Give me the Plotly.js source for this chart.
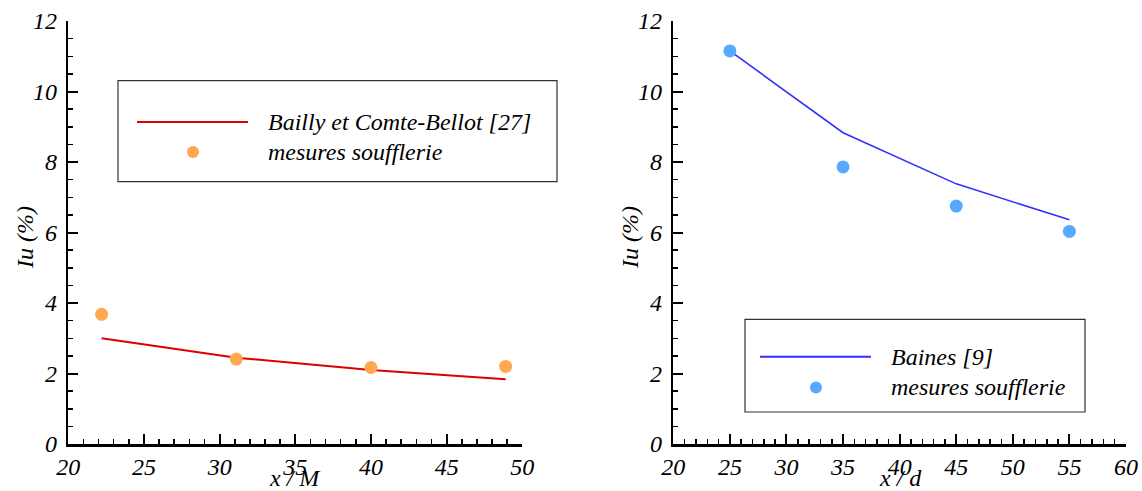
<!DOCTYPE html>
<html>
<head>
<meta charset="utf-8">
<script src="https://cdn.plot.ly/plotly-3.0.1.min.js"></script>
<style>
html,body{margin:0;padding:0;background:#fff;}
#chart{width:1142px;height:491px;}
</style>
</head>
<body>
<div id="chart"></div>
<script>
// ---- Data ----
const leftLineName = "Bailly et Comte-Bellot [27]";
const leftLineX = [22.2, 31.1, 40.0, 48.9];
const leftLineY = [3.0, 2.45, 2.1, 1.84];
const leftPtsName = "mesures soufflerie";
const leftPtsX = [22.2, 31.1, 40.0, 48.9];
const leftPtsY = [3.68, 2.41, 2.17, 2.2];

const rightLineName = "Baines [9]";
const rightLineX = [25, 35, 45, 55];
const rightLineY = [11.15, 8.83, 7.38, 6.36];
const rightPtsName = "mesures soufflerie";
const rightPtsX = [25, 35, 45, 55];
const rightPtsY = [11.15, 7.86, 6.75, 6.03];

const xTitleLeft = "x / M";
const xTitleRight = "x / d";
const yTitle = "Iu (%)";

(function () {
  const W = 1142, H = 491;
  const red = "#dd0000", orange = "#ffa851", blue = "#3030ff", lblue = "#55aaff";
  const fx = v => v / W;
  const fy = v => 1 - v / H;
  const mkFont = s => ({family: "Liberation Serif", size: s, style: "italic", color: "#000"});

  const traces = [
    {x: leftLineX, y: leftLineY, xaxis: 'x', yaxis: 'y', mode: 'lines', name: leftLineName,
     line: {color: red, width: 2}, showlegend: false},
    {x: leftPtsX, y: leftPtsY, xaxis: 'x', yaxis: 'y', mode: 'markers', name: leftPtsName,
     marker: {color: orange, size: 13}, showlegend: false},
    {x: rightLineX, y: rightLineY, xaxis: 'x2', yaxis: 'y2', mode: 'lines', name: rightLineName,
     line: {color: blue, width: 1.6}, showlegend: false},
    {x: rightPtsX, y: rightPtsY, xaxis: 'x2', yaxis: 'y2', mode: 'markers', name: rightPtsName,
     marker: {color: lblue, size: 13}, showlegend: false}
  ];

  function xax(domain, range, anchor) {
    return {
      domain: domain, range: range, dtick: 5, tick0: 0, anchor: anchor,
      showline: true, linecolor: '#000', linewidth: 2.5, mirror: false,
      showgrid: false, zeroline: false,
      ticks: 'inside', ticklen: 10, tickwidth: 2, tickcolor: '#000',
      minor: {ticks: 'inside', dtick: 1, ticklen: 5, tickwidth: 1.5, tickcolor: '#000', showgrid: false},
      tickfont: mkFont(24), ticklabelstandoff: 0,
      automargin: false, fixedrange: true
    };
  }
  function yax(domain, anchor) {
    return {
      domain: domain, range: [0, 12], dtick: 2, tick0: 0, anchor: anchor,
      showline: true, linecolor: '#000', linewidth: 2.5, mirror: false,
      showgrid: false, zeroline: false,
      ticks: 'inside', ticklen: 10, tickwidth: 2, tickcolor: '#000',
      minor: {ticks: 'inside', dtick: 0.5, ticklen: 5, tickwidth: 1.5, tickcolor: '#000', showgrid: false},
      tickfont: mkFont(24), ticklabelstandoff: 4,
      automargin: false, fixedrange: true
    };
  }

  const yDom = [fy(444), fy(21)];
  const layout = {
    width: W, height: H,
    margin: {l: 0, r: 0, t: 0, b: 0},
    paper_bgcolor: '#fff', plot_bgcolor: '#fff',
    font: {family: "Liberation Serif", color: "#000"},
    showlegend: false,
    xaxis: xax([fx(68.3), fx(522.3)], [20, 50], 'y'),
    yaxis: yax(yDom, 'x'),
    xaxis2: xax([fx(673.3), fx(1126)], [20, 60], 'y2'),
    yaxis2: yax(yDom, 'x2'),
    shapes: [
      {type: 'rect', xref: 'paper', yref: 'paper', x0: fx(118), x1: fx(557), y0: fy(181.7), y1: fy(80.7),
       line: {color: '#333', width: 1.2}, fillcolor: 'rgba(0,0,0,0)'},
      {type: 'line', xref: 'paper', yref: 'paper', x0: fx(137), x1: fx(248), y0: fy(122), y1: fy(122),
       line: {color: red, width: 2}},
      {type: 'circle', xref: 'paper', yref: 'paper', x0: fx(187), x1: fx(199), y0: fy(158), y1: fy(146),
       line: {width: 0}, fillcolor: orange},
      {type: 'rect', xref: 'paper', yref: 'paper', x0: fx(745), x1: fx(1085), y0: fy(412), y1: fy(319.3),
       line: {color: '#333', width: 1.2}, fillcolor: 'rgba(0,0,0,0)'},
      {type: 'line', xref: 'paper', yref: 'paper', x0: fx(760), x1: fx(871), y0: fy(356.7), y1: fy(356.7),
       line: {color: blue, width: 2}},
      {type: 'circle', xref: 'paper', yref: 'paper', x0: fx(810), x1: fx(822), y0: fy(393.5), y1: fy(381.5),
       line: {width: 0}, fillcolor: lblue}
    ],
    annotations: [
      // legend texts
      {xref: 'paper', yref: 'paper', x: fx(266), y: fy(122), xanchor: 'left', yanchor: 'middle',
       text: leftLineName, showarrow: false, font: mkFont(24)},
      {xref: 'paper', yref: 'paper', x: fx(266), y: fy(152), xanchor: 'left', yanchor: 'middle',
       text: leftPtsName, showarrow: false, font: mkFont(24)},
      {xref: 'paper', yref: 'paper', x: fx(889), y: fy(356.7), xanchor: 'left', yanchor: 'middle',
       text: rightLineName, showarrow: false, font: mkFont(24)},
      {xref: 'paper', yref: 'paper', x: fx(889), y: fy(387), xanchor: 'left', yanchor: 'middle',
       text: rightPtsName, showarrow: false, font: mkFont(24)},
      // axis titles
      {xref: 'paper', yref: 'paper', x: fx(295), y: fy(478), xanchor: 'center', yanchor: 'middle',
       text: xTitleLeft, showarrow: false, font: mkFont(24)},
      {xref: 'paper', yref: 'paper', x: fx(900), y: fy(478), xanchor: 'center', yanchor: 'middle',
       text: xTitleRight, showarrow: false, font: mkFont(24)},
      {xref: 'paper', yref: 'paper', x: fx(25), y: fy(238), xanchor: 'center', yanchor: 'middle', textangle: -90,
       text: yTitle, showarrow: false, font: mkFont(24)},
      {xref: 'paper', yref: 'paper', x: fx(630), y: fy(238), xanchor: 'center', yanchor: 'middle', textangle: -90,
       text: yTitle, showarrow: false, font: mkFont(24)}
    ]
  };

  Plotly.newPlot('chart', traces, layout, {displayModeBar: false, staticPlot: true});
})();
</script>
</body>
</html>
